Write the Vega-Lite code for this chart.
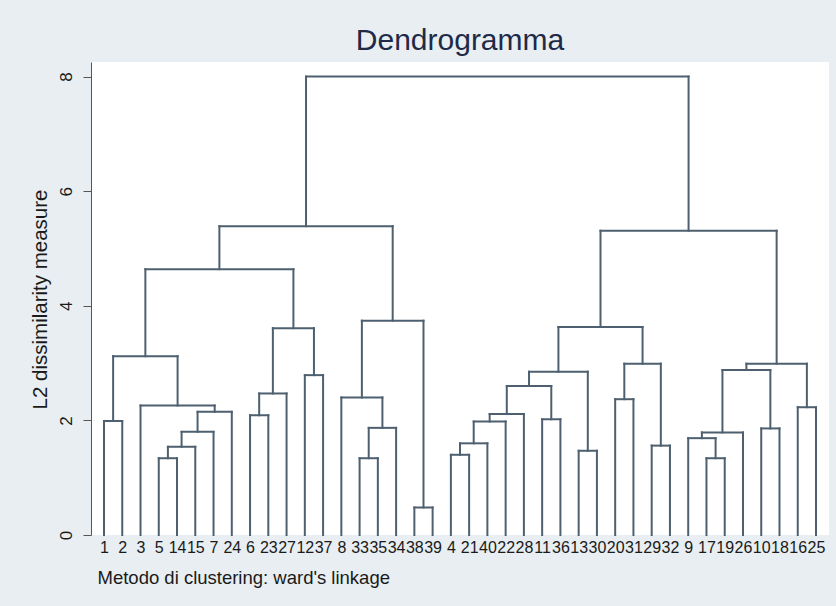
{
  "$schema": "https://vega.github.io/schema/vega-lite/v6.json",
  "autosize": {"type": "none"},
  "padding": {"left": 91, "top": 62, "right": 7, "bottom": 71},
  "width": 738,
  "height": 473,
  "background": "#e8eef1",
  "config": {
    "view": {"fill": "white", "stroke": null},
    "font": "Liberation Sans"
  },
  "title": {
    "text": "Dendrogramma",
    "fontSize": 30,
    "fontWeight": "normal",
    "color": "#1e2a47",
    "anchor": "middle",
    "baseline": "alphabetic",
    "offset": 10,
    "dy": 28
  },
  "data": {
    "values": [
      {"xl": 1, "xr": 2, "h": 1.99, "hl": 0, "hr": 0},
      {"xl": 4, "xr": 5, "h": 1.34, "hl": 0, "hr": 0},
      {"xl": 4.5, "xr": 6, "h": 1.54, "hl": 1.34, "hr": 0},
      {"xl": 5.25, "xr": 7, "h": 1.80, "hl": 1.54, "hr": 0},
      {"xl": 6.125, "xr": 8, "h": 2.15, "hl": 1.80, "hr": 0},
      {"xl": 3, "xr": 7.0625, "h": 2.26, "hl": 0, "hr": 2.15},
      {"xl": 1.5, "xr": 5.03125, "h": 3.12, "hl": 1.99, "hr": 2.26},
      {"xl": 9, "xr": 10, "h": 2.09, "hl": 0, "hr": 0},
      {"xl": 9.5, "xr": 11, "h": 2.47, "hl": 2.09, "hr": 0},
      {"xl": 12, "xr": 13, "h": 2.79, "hl": 0, "hr": 0},
      {"xl": 10.25, "xr": 12.5, "h": 3.61, "hl": 2.47, "hr": 2.79},
      {"xl": 3.265625, "xr": 11.375, "h": 4.64, "hl": 3.12, "hr": 3.61},
      {"xl": 15, "xr": 16, "h": 1.34, "hl": 0, "hr": 0},
      {"xl": 15.5, "xr": 17, "h": 1.87, "hl": 1.34, "hr": 0},
      {"xl": 14, "xr": 16.25, "h": 2.40, "hl": 0, "hr": 1.87},
      {"xl": 18, "xr": 19, "h": 0.48, "hl": 0, "hr": 0},
      {"xl": 15.125, "xr": 18.5, "h": 3.74, "hl": 2.40, "hr": 0.48},
      {"xl": 7.3203125, "xr": 16.8125, "h": 5.39, "hl": 4.64, "hr": 3.74},
      {"xl": 20, "xr": 21, "h": 1.40, "hl": 0, "hr": 0},
      {"xl": 20.5, "xr": 22, "h": 1.60, "hl": 1.40, "hr": 0},
      {"xl": 21.25, "xr": 23, "h": 1.98, "hl": 1.60, "hr": 0},
      {"xl": 22.125, "xr": 24, "h": 2.11, "hl": 1.98, "hr": 0},
      {"xl": 25, "xr": 26, "h": 2.02, "hl": 0, "hr": 0},
      {"xl": 23.0625, "xr": 25.5, "h": 2.60, "hl": 2.11, "hr": 2.02},
      {"xl": 27, "xr": 28, "h": 1.47, "hl": 0, "hr": 0},
      {"xl": 24.28125, "xr": 27.5, "h": 2.85, "hl": 2.60, "hr": 1.47},
      {"xl": 29, "xr": 30, "h": 2.37, "hl": 0, "hr": 0},
      {"xl": 31, "xr": 32, "h": 1.56, "hl": 0, "hr": 0},
      {"xl": 29.5, "xr": 31.5, "h": 2.99, "hl": 2.37, "hr": 1.56},
      {"xl": 25.890625, "xr": 30.5, "h": 3.63, "hl": 2.85, "hr": 2.99},
      {"xl": 34, "xr": 35, "h": 1.34, "hl": 0, "hr": 0},
      {"xl": 33, "xr": 34.5, "h": 1.69, "hl": 0, "hr": 1.34},
      {"xl": 33.75, "xr": 36, "h": 1.79, "hl": 1.69, "hr": 0},
      {"xl": 37, "xr": 38, "h": 1.86, "hl": 0, "hr": 0},
      {"xl": 34.875, "xr": 37.5, "h": 2.88, "hl": 1.79, "hr": 1.86},
      {"xl": 39, "xr": 40, "h": 2.23, "hl": 0, "hr": 0},
      {"xl": 36.1875, "xr": 39.5, "h": 2.99, "hl": 2.88, "hr": 2.23},
      {"xl": 28.1953125, "xr": 37.84375, "h": 5.31, "hl": 3.63, "hr": 2.99},
      {"xl": 12.06640625, "xr": 33.01953125, "h": 8.0, "hl": 5.39, "hr": 5.31}
    ]
  },
  "encoding": {
    "x": {
      "field": "xl",
      "type": "quantitative",
      "scale": {"domain": [0.288, 40.712], "nice": false, "zero": false},
      "axis": {
        "title": "Metodo di clustering: ward's linkage",
        "titleFontSize": 18.5,
        "titleFontWeight": "normal",
        "titleColor": "#1a1a1a",
        "titleAlign": "left",
        "titleBaseline": "middle",
        "titleX": 6,
        "titleY": 42,
        "values": [1,2,3,4,5,6,7,8,9,10,11,12,13,14,15,16,17,18,19,20,21,22,23,24,25,26,27,28,29,30,31,32,33,34,35,36,37,38,39,40],
        "labelExpr": "['1','2','3','5','14','15','7','24','6','23','27','12','37','8','33','35','34','38','39','4','21','40','22','28','11','36','13','30','20','31','29','32','9','17','19','26','10','18','16','25'][datum.value-1]",
        "labelFontSize": 16,
        "labelColor": "#1a1a1a",
        "labelOverlap": false,
        "labelFlush": false,
        "labelBound": false,
        "labelPadding": 4,
        "ticks": false,
        "tickSize": 0,
        "domain": false,
        "grid": false
      }
    },
    "y": {
      "field": "h",
      "type": "quantitative",
      "scale": {"domain": [0, 8.255], "nice": false, "zero": true},
      "axis": {
        "title": "L2 dissimilarity measure",
        "titleFontSize": 20.5,
        "titleFontWeight": "normal",
        "titleColor": "#1a1a1a",
        "titleX": -51,
        "titleY": 237,
        "titleAlign": "center",
        "titleBaseline": "middle",
        "values": [0, 2, 4, 6, 8],
        "labelAngle": -90,
        "labelAlign": "center",
        "labelBaseline": "bottom",
        "labelFontSize": 17,
        "labelColor": "#1a1a1a",
        "labelPadding": 8,
        "tickSize": 8,
        "tickColor": "#555555",
        "domainColor": "#555555",
        "grid": false
      }
    }
  },
  "layer": [
    {
      "mark": {"type": "rule", "color": "#4e6070", "strokeWidth": 2, "strokeCap": "square"},
      "encoding": {
        "x": {"field": "xl", "type": "quantitative"},
        "x2": {"field": "xr"},
        "y": {"field": "h", "type": "quantitative"}
      }
    },
    {
      "mark": {"type": "rule", "color": "#4e6070", "strokeWidth": 2, "strokeCap": "square"},
      "encoding": {
        "x": {"field": "xl", "type": "quantitative"},
        "y": {"field": "hl", "type": "quantitative"},
        "y2": {"field": "h"}
      }
    },
    {
      "mark": {"type": "rule", "color": "#4e6070", "strokeWidth": 2, "strokeCap": "square"},
      "encoding": {
        "x": {"field": "xr", "type": "quantitative"},
        "y": {"field": "hr", "type": "quantitative"},
        "y2": {"field": "h"}
      }
    }
  ]
}
